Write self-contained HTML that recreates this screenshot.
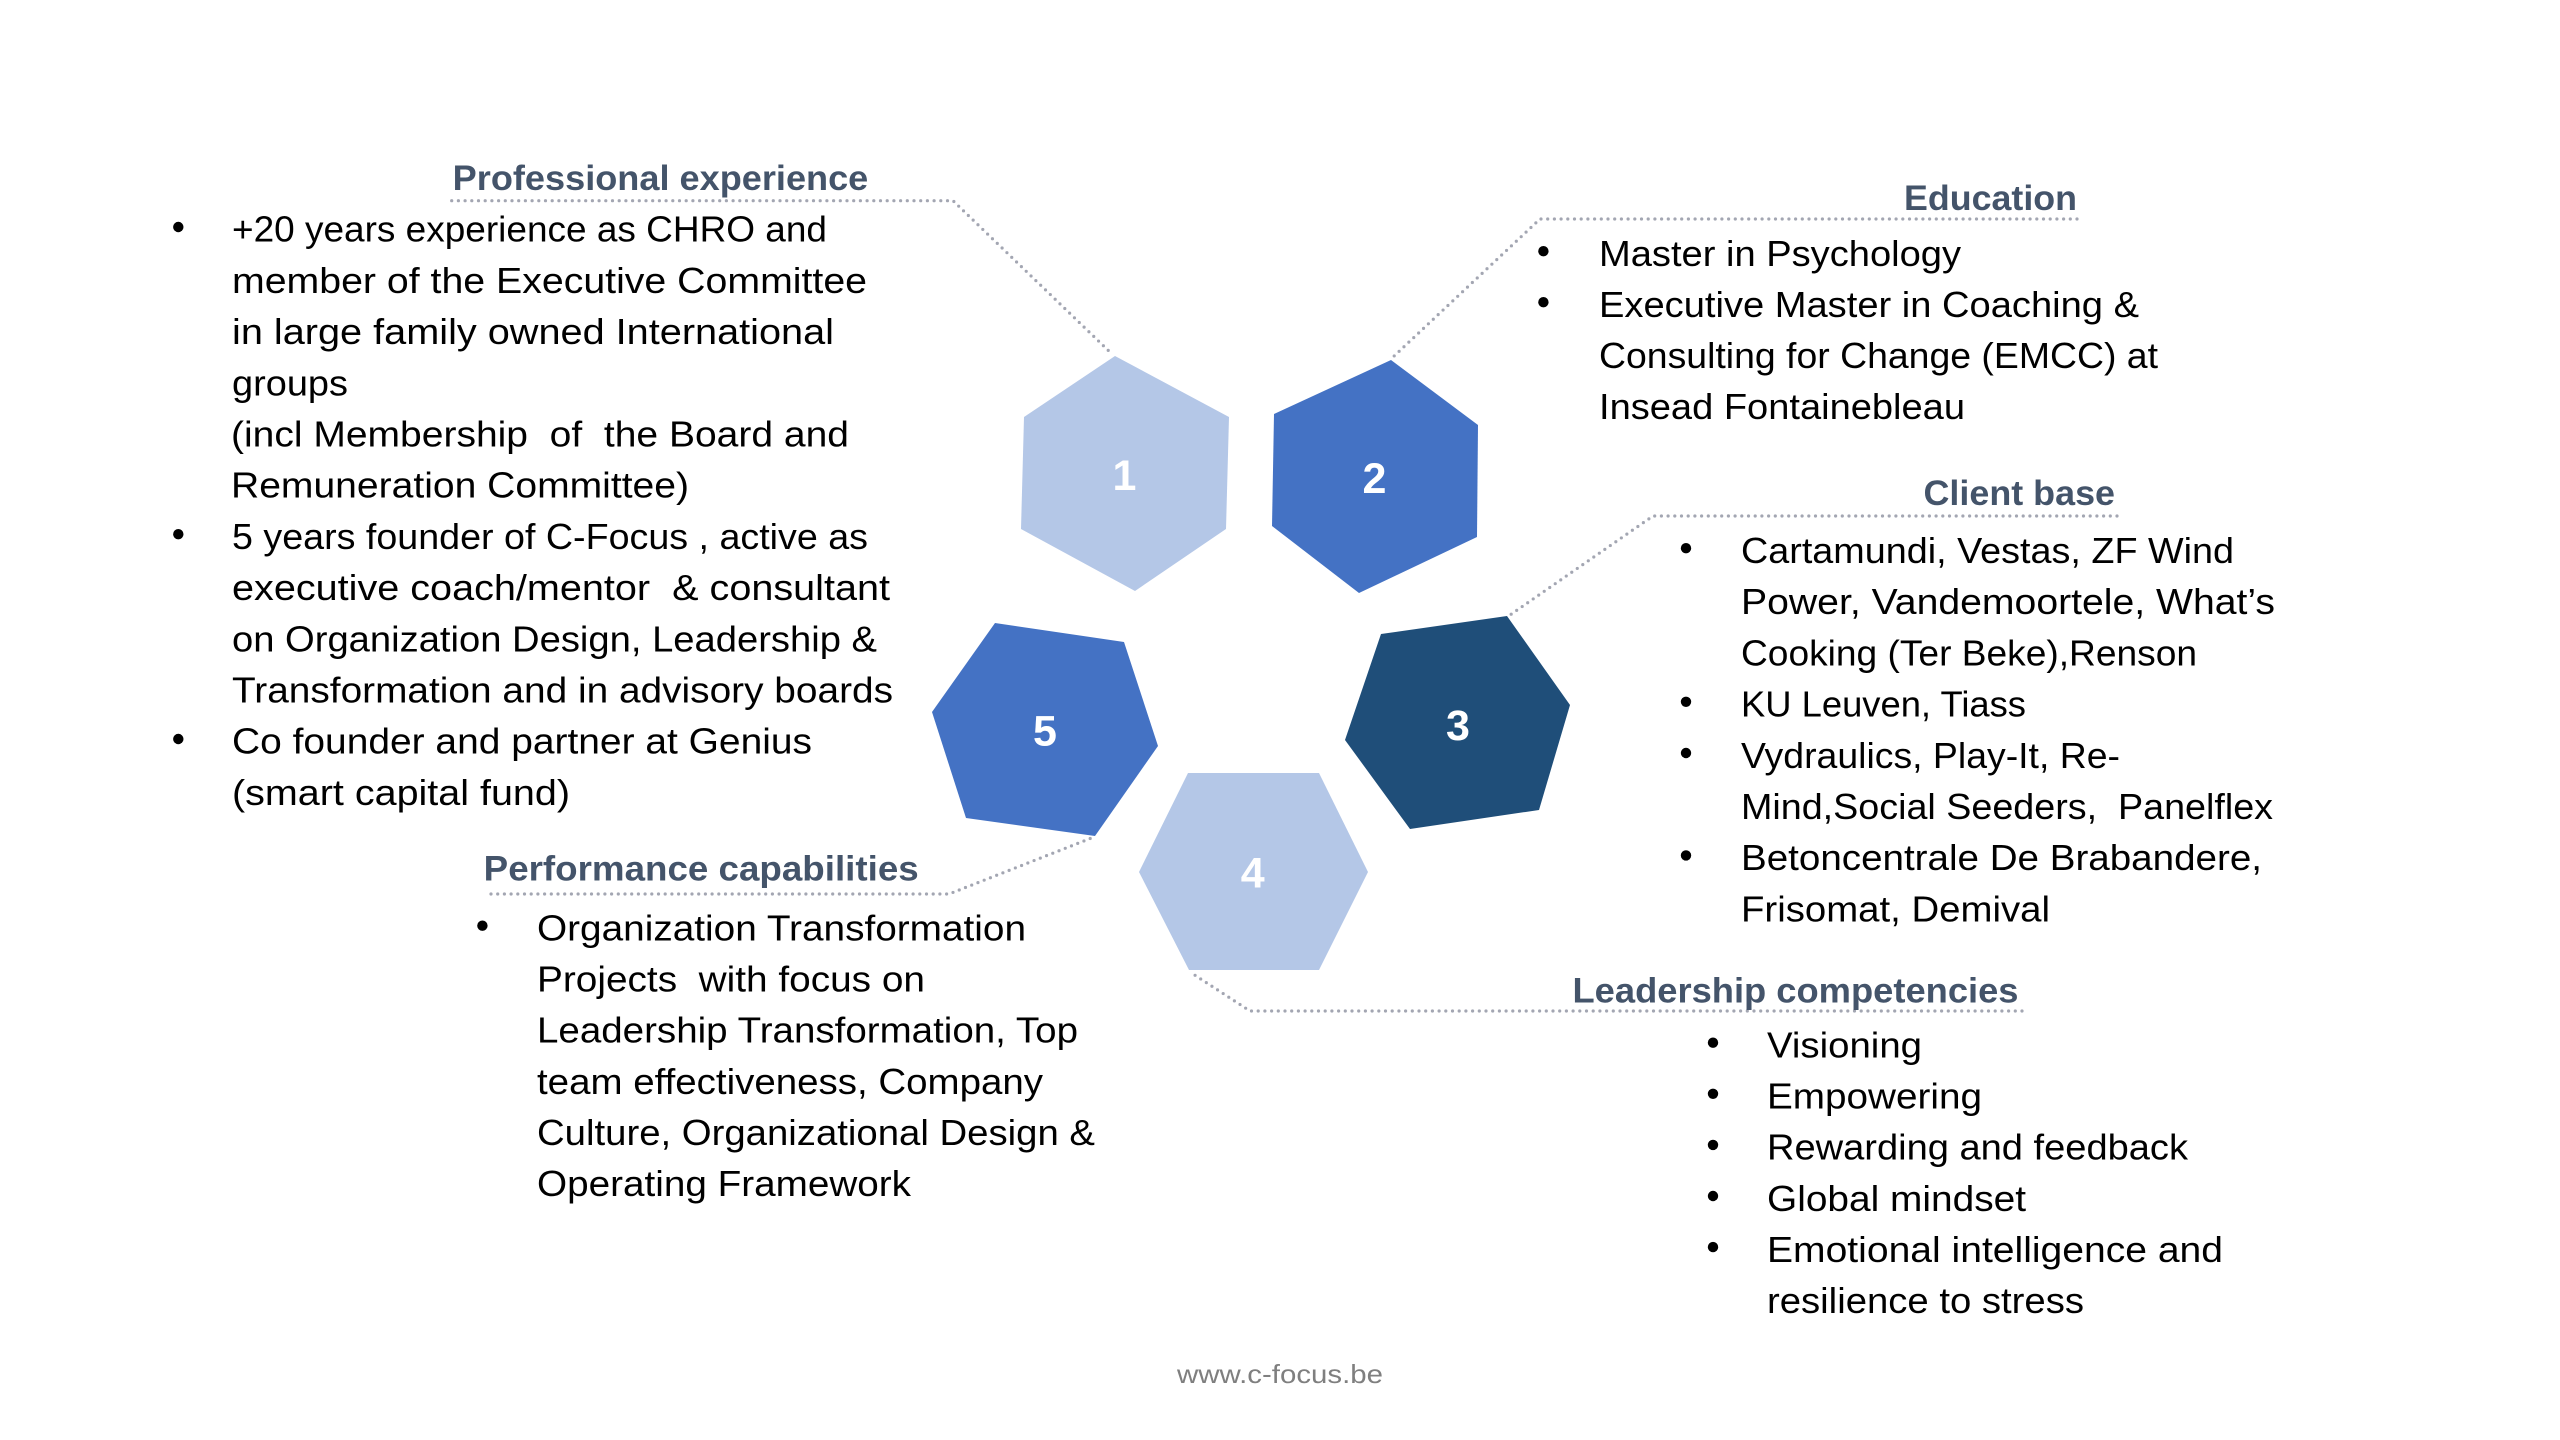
<!DOCTYPE html>
<html>
<head>
<meta charset="utf-8">
<style>
html,body{margin:0;padding:0;background:#fff;}
svg{display:block;}
text{font-family:"Liberation Sans",Arial,sans-serif;white-space:pre;}
.b{font-size:36px;fill:#000;}
.h{font-size:35px;font-weight:bold;fill:#44546A;}
.n{font-size:43px;font-weight:bold;fill:#fff;}
.d{fill:none;stroke:#A3A6B2;stroke-width:3.2;stroke-linecap:round;stroke-dasharray:0 6.7;}
</style>
</head>
<body>
<svg width="2560" height="1440" viewBox="0 0 2560 1440" xmlns="http://www.w3.org/2000/svg">
<rect width="2560" height="1440" fill="#fff"/>

<!-- connectors -->
<polyline class="d" points="451.7,200.7 953,200.7 1112,354"/>
<polyline class="d" points="2077,219 1540,219 1392,358"/>
<polyline class="d" points="2117,516 1653,516 1510,615"/>
<polyline class="d" points="2022,1011 1250,1011 1190,972"/>
<polyline class="d" points="491,894 949,894 1094,837"/>

<!-- hexagons -->
<polygon fill="#B4C7E7" points="1115,356 1229,417 1226,529 1135,591 1021,529 1024,417"/>
<polygon fill="#4472C4" points="1391,360 1478,425 1477,537 1359,593 1272,526 1274,414"/>
<polygon fill="#4472C4" points="995,623 1124,642 1158,746 1095,836 966,818 932,712"/>
<polygon fill="#1F4E79" points="1381,634 1507,616 1570,705 1539,810 1410,829 1345,740"/>
<polygon fill="#B4C7E7" points="1188,773 1319,773 1368,872 1319,970 1189,970 1139,872"/>

<text class="n" x="1124.5" y="490" text-anchor="middle">1</text>
<text class="n" x="1374.5" y="493" text-anchor="middle">2</text>
<text class="n" x="1045" y="745.5" text-anchor="middle">5</text>
<text class="n" x="1458" y="740" text-anchor="middle">3</text>
<text class="n" x="1252.7" y="887.5" text-anchor="middle">4</text>

<!-- Professional experience -->
<text class="h" x="452.7" y="190" textLength="415.6" lengthAdjust="spacingAndGlyphs">Professional experience</text>
<circle cx="178.3" cy="227" r="5.2" fill="#000"/>
<circle cx="178.3" cy="534.2" r="5.2" fill="#000"/>
<circle cx="178.3" cy="739" r="5.2" fill="#000"/>
<text class="b" x="232" y="241.7" textLength="595" lengthAdjust="spacingAndGlyphs">+20 years experience as CHRO and</text>
<text class="b" x="232" y="292.9" textLength="635" lengthAdjust="spacingAndGlyphs">member of the Executive Committee</text>
<text class="b" x="232" y="344.1" textLength="602" lengthAdjust="spacingAndGlyphs">in large family owned International</text>
<text class="b" x="232" y="395.3" textLength="116" lengthAdjust="spacingAndGlyphs">groups</text>
<text class="b" x="231" y="446.5" textLength="618" lengthAdjust="spacingAndGlyphs">(incl Membership  of  the Board and</text>
<text class="b" x="231" y="497.7" textLength="458" lengthAdjust="spacingAndGlyphs">Remuneration Committee)</text>
<text class="b" x="232" y="548.9" textLength="636" lengthAdjust="spacingAndGlyphs">5 years founder of C-Focus , active as</text>
<text class="b" x="232" y="600.1" textLength="658" lengthAdjust="spacingAndGlyphs">executive coach/mentor  &amp; consultant</text>
<text class="b" x="232" y="651.3" textLength="645" lengthAdjust="spacingAndGlyphs">on Organization Design, Leadership &amp;</text>
<text class="b" x="232" y="702.5" textLength="661" lengthAdjust="spacingAndGlyphs">Transformation and in advisory boards</text>
<text class="b" x="232" y="753.7" textLength="580" lengthAdjust="spacingAndGlyphs">Co founder and partner at Genius</text>
<text class="b" x="232" y="804.9" textLength="338" lengthAdjust="spacingAndGlyphs">(smart capital fund)</text>

<!-- Education -->
<text class="h" x="1904" y="210" textLength="173" lengthAdjust="spacingAndGlyphs">Education</text>
<circle cx="1543.4" cy="251.2" r="5.2" fill="#000"/>
<circle cx="1543.4" cy="302.2" r="5.2" fill="#000"/>
<text class="b" x="1599" y="266" textLength="362" lengthAdjust="spacingAndGlyphs">Master in Psychology</text>
<text class="b" x="1599" y="317" textLength="540" lengthAdjust="spacingAndGlyphs">Executive Master in Coaching &amp;</text>
<text class="b" x="1599" y="368" textLength="559" lengthAdjust="spacingAndGlyphs">Consulting for Change (EMCC) at</text>
<text class="b" x="1599" y="419" textLength="366" lengthAdjust="spacingAndGlyphs">Insead Fontainebleau</text>

<!-- Client base -->
<text class="h" x="1923.5" y="505" textLength="191.5" lengthAdjust="spacingAndGlyphs">Client base</text>
<circle cx="1686" cy="548.2" r="5.2" fill="#000"/>
<circle cx="1686" cy="701.8" r="5.2" fill="#000"/>
<circle cx="1686" cy="753" r="5.2" fill="#000"/>
<circle cx="1686" cy="855.4" r="5.2" fill="#000"/>
<text class="b" x="1741" y="563" textLength="493" lengthAdjust="spacingAndGlyphs">Cartamundi, Vestas, ZF Wind</text>
<text class="b" x="1741" y="614.2" textLength="534" lengthAdjust="spacingAndGlyphs">Power, Vandemoortele, What’s</text>
<text class="b" x="1741" y="665.4" textLength="456" lengthAdjust="spacingAndGlyphs">Cooking (Ter Beke),Renson</text>
<text class="b" x="1741" y="716.6" textLength="285" lengthAdjust="spacingAndGlyphs">KU Leuven, Tiass</text>
<text class="b" x="1741" y="767.8" textLength="379" lengthAdjust="spacingAndGlyphs">Vydraulics, Play-It, Re-</text>
<text class="b" x="1741" y="819" textLength="532" lengthAdjust="spacingAndGlyphs">Mind,Social Seeders,  Panelflex</text>
<text class="b" x="1741" y="870.2" textLength="521" lengthAdjust="spacingAndGlyphs">Betoncentrale De Brabandere,</text>
<text class="b" x="1741" y="921.4" textLength="309" lengthAdjust="spacingAndGlyphs">Frisomat, Demival</text>

<!-- Leadership competencies -->
<text class="h" x="1572.5" y="1002.7" textLength="446" lengthAdjust="spacingAndGlyphs">Leadership competencies</text>
<circle cx="1713" cy="1042.7" r="5.2" fill="#000"/>
<circle cx="1713" cy="1093.8" r="5.2" fill="#000"/>
<circle cx="1713" cy="1144.9" r="5.2" fill="#000"/>
<circle cx="1713" cy="1196" r="5.2" fill="#000"/>
<circle cx="1713" cy="1247.1" r="5.2" fill="#000"/>
<text class="b" x="1767" y="1057.5" textLength="155" lengthAdjust="spacingAndGlyphs">Visioning</text>
<text class="b" x="1767" y="1108.6" textLength="215" lengthAdjust="spacingAndGlyphs">Empowering</text>
<text class="b" x="1767" y="1159.7" textLength="421" lengthAdjust="spacingAndGlyphs">Rewarding and feedback</text>
<text class="b" x="1767" y="1210.8" textLength="259" lengthAdjust="spacingAndGlyphs">Global mindset</text>
<text class="b" x="1767" y="1261.9" textLength="456" lengthAdjust="spacingAndGlyphs">Emotional intelligence and</text>
<text class="b" x="1767" y="1313" textLength="317" lengthAdjust="spacingAndGlyphs">resilience to stress</text>

<!-- Performance capabilities -->
<text class="h" x="483.7" y="880.7" textLength="435" lengthAdjust="spacingAndGlyphs">Performance capabilities</text>
<circle cx="482.4" cy="925.7" r="5.2" fill="#000"/>
<text class="b" x="537" y="940.5" textLength="489" lengthAdjust="spacingAndGlyphs">Organization Transformation</text>
<text class="b" x="537" y="991.6" textLength="388" lengthAdjust="spacingAndGlyphs">Projects  with focus on</text>
<text class="b" x="537" y="1042.7" textLength="541" lengthAdjust="spacingAndGlyphs">Leadership Transformation, Top</text>
<text class="b" x="537" y="1093.8" textLength="506" lengthAdjust="spacingAndGlyphs">team effectiveness, Company</text>
<text class="b" x="537" y="1144.9" textLength="558" lengthAdjust="spacingAndGlyphs">Culture, Organizational Design &amp;</text>
<text class="b" x="537" y="1196" textLength="374" lengthAdjust="spacingAndGlyphs">Operating Framework</text>

<!-- footer -->
<text x="1177" y="1383" style="font-size:26px;fill:#7F7F7F;" textLength="206" lengthAdjust="spacingAndGlyphs">www.c-focus.be</text>
</svg>
</body>
</html>
